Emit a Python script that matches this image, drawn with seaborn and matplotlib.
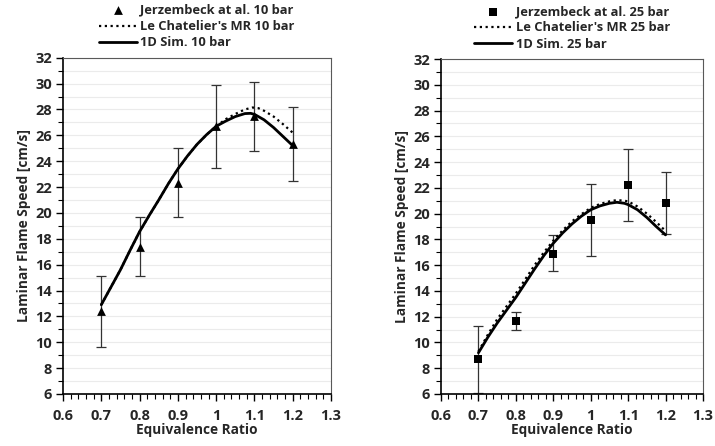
import numpy as np
import pandas as pd
import matplotlib
matplotlib.use("Agg")
import matplotlib.pyplot as plt
from matplotlib.ticker import MultipleLocator, FuncFormatter
import seaborn as sns

# ---------------- data ----------------
exp_phi = [0.7, 0.8, 0.9, 1.0, 1.1, 1.2]

exp10 = [12.4, 17.4, 22.3, 26.7, 27.5, 25.3]
exp10_lo = [9.6, 15.1, 19.7, 23.5, 24.8, 22.5]
exp10_hi = [15.1, 19.7, 25.0, 29.9, 30.1, 28.2]

exp25 = [8.7, 11.7, 16.9, 19.5, 22.2, 20.8]
exp25_lo = [6.1, 11.0, 15.55, 16.7, 19.4, 18.4]
exp25_hi = [11.3, 12.4, 18.35, 22.3, 25.0, 23.2]

sim10_phi = [0.7, 0.725, 0.75, 0.775, 0.8, 0.825, 0.85, 0.875, 0.9, 0.925, 0.95,
             0.975, 1.0, 1.025, 1.05, 1.075, 1.09, 1.1, 1.125, 1.15, 1.175, 1.2]
sim10 = [12.9, 14.25, 15.6, 17.1, 18.55, 19.8, 21.0, 22.25, 23.4, 24.4, 25.3,
         26.05, 26.7, 27.1, 27.45, 27.68, 27.7, 27.62, 27.2, 26.6, 25.9, 25.2]

mr10_phi = [0.7, 0.725, 0.75, 0.775, 0.8, 0.825, 0.85, 0.875, 0.9, 0.925, 0.95,
            0.975, 1.0, 1.025, 1.05, 1.075, 1.095, 1.11, 1.125, 1.15, 1.175, 1.2]
mr10 = [12.9, 14.25, 15.6, 17.1, 18.55, 19.8, 21.0, 22.25, 23.4, 24.4, 25.3,
        26.05, 26.7, 27.25, 27.65, 28.0, 28.15, 28.1, 27.9, 27.45, 26.85, 26.2]

sim25_phi = [0.7, 0.725, 0.75, 0.775, 0.8, 0.825, 0.85, 0.875, 0.9, 0.925, 0.95,
             0.975, 1.0, 1.025, 1.05, 1.07, 1.09, 1.1, 1.125, 1.15, 1.175, 1.2]
sim25 = [9.2, 10.4, 11.5, 12.5, 13.5, 14.6, 15.7, 16.75, 17.7, 18.5, 19.2,
         19.8, 20.3, 20.6, 20.8, 20.88, 20.8, 20.7, 20.3, 19.7, 19.0, 18.35]

mr25_phi = sim25_phi
mr25 = [9.3, 10.6, 11.8, 12.8, 13.8, 14.9, 16.0, 17.0, 17.9, 18.7, 19.4,
        19.95, 20.45, 20.75, 20.95, 21.05, 21.0, 20.95, 20.55, 20.0, 19.35, 18.65]

labels10 = ["Jerzembeck at al. 10 bar", "Le Chatelier's MR 10 bar", "1D Sim. 10 bar"]
labels25 = ["Jerzembeck at al. 25 bar", "Le Chatelier's MR 25 bar", "1D Sim. 25 bar"]

xlabel = "Equivalence Ratio"
ylabel = "Laminar Flame Speed [cm/s]"

# ---------------- style ----------------
sns.set_theme(style="white")
plt.rcParams['font.family'] = ['Open Sans', 'DejaVu Sans']
plt.rcParams['font.weight'] = 'bold'

fig = plt.figure(figsize=(7.15, 4.46), dpi=100)
axL = fig.add_axes([0.0881, 0.1166, 0.3749, 0.754])
axR = fig.add_axes([0.6168, 0.1166, 0.3664, 0.7511])


def fmt(v, pos):
    s = f"{v:.1f}"
    if s.endswith(".0"):
        s = s[:-2]
    return s


def draw(ax, exp, lo, hi, marker, msize, sim_phi, sim, mr_phi, mr, labels):
    ax.set_axisbelow(True)
    for yv in range(6, 33):
        ax.axhline(yv, color="#ebebeb", lw=0.8, zorder=0)
    yerr = np.array([np.array(exp) - np.array(lo), np.array(hi) - np.array(exp)])
    ax.errorbar(exp_phi, exp, yerr=yerr, fmt="none", ecolor="#333333",
                elinewidth=0.9, capsize=3.5, capthick=0.9, zorder=2)
    df_mr = pd.DataFrame({"phi": mr_phi, "s": mr})
    df_sim = pd.DataFrame({"phi": sim_phi, "s": sim})
    df_exp = pd.DataFrame({"phi": exp_phi, "s": exp})
    sns.lineplot(data=df_mr, x="phi", y="s", ax=ax, color="black", lw=1.6,
                 linestyle=(0, (1, 1.6)), label=labels[1], zorder=3, sort=False)
    sns.lineplot(data=df_sim, x="phi", y="s", ax=ax, color="black", lw=2.0,
                 label=labels[2], zorder=4, sort=False)
    sns.scatterplot(data=df_exp, x="phi", y="s", ax=ax, color="black", marker=marker,
                    s=msize, edgecolor="black", linewidth=0, label=labels[0], zorder=5)

    ax.set_xlim(0.6, 1.3)
    ax.set_ylim(6, 32)
    ax.xaxis.set_major_locator(MultipleLocator(0.1))
    ax.xaxis.set_minor_locator(MultipleLocator(0.02))
    ax.yaxis.set_major_locator(MultipleLocator(2))
    ax.yaxis.set_minor_locator(MultipleLocator(1))
    ax.xaxis.set_major_formatter(FuncFormatter(fmt))
    ax.tick_params(axis="both", which="major", direction="out", length=5, width=1,
                   labelsize=10.5, pad=6, color="black",
                   bottom=True, left=True, top=False, right=False)
    ax.tick_params(axis="both", which="minor", direction="out", length=3.5, width=0.8,
                   color="black", bottom=True, left=True, top=False, right=False)
    ax.tick_params(axis="y", which="major", pad=3)
    for lab in ax.get_xticklabels() + ax.get_yticklabels():
        lab.set_fontweight("bold")
    for side in ["left", "bottom"]:
        ax.spines[side].set_color("black")
        ax.spines[side].set_linewidth(1.2)
    for side in ["top", "right"]:
        ax.spines[side].set_color("#595959")
        ax.spines[side].set_linewidth(0.8)
    ax.set_xlabel(xlabel, fontsize=9.8, fontweight="bold", labelpad=0)
    ax.set_ylabel(ylabel, fontsize=9.8, fontweight="bold", labelpad=3)

    handles, labs = ax.get_legend_handles_labels()
    order = [labs.index(labels[0]), labs.index(labels[1]), labs.index(labels[2])]
    ax.legend([handles[i] for i in order], [labs[i] for i in order],
              loc="lower center", bbox_to_anchor=(0.5, 1.025), frameon=False,
              prop={"weight": "bold", "size": 9.3}, handlelength=2.9,
              labelspacing=0.25, handletextpad=0.3, borderaxespad=0.0,
              borderpad=0.0)


draw(axL, exp10, exp10_lo, exp10_hi, "^", 40, sim10_phi, sim10, mr10_phi, mr10, labels10)
draw(axR, exp25, exp25_lo, exp25_hi, "s", 40, sim25_phi, sim25, mr25_phi, mr25, labels25)

fig.savefig("out.png", dpi=100)
